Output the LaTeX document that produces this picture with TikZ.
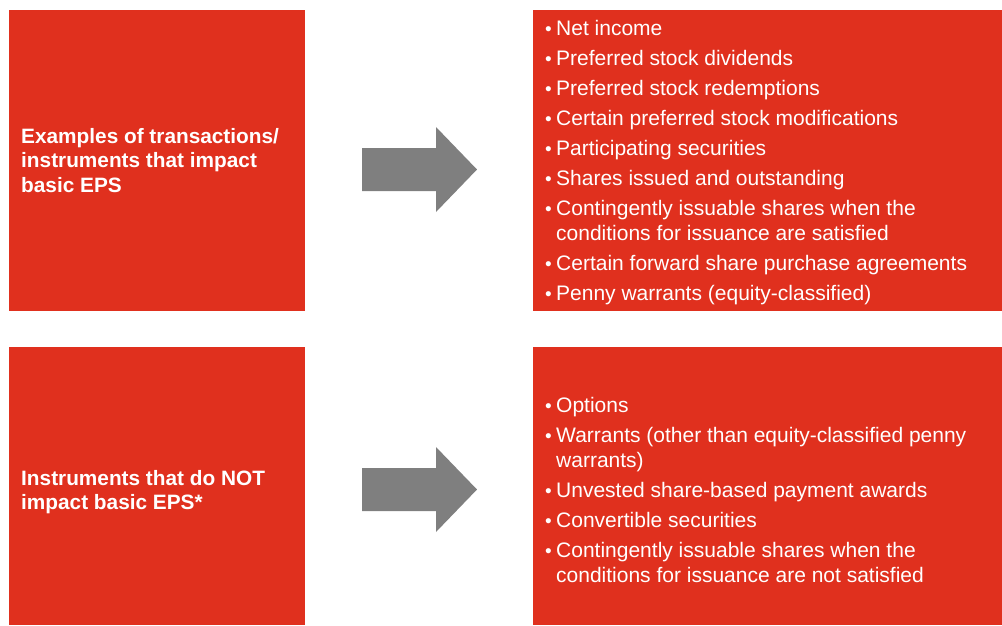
\documentclass[tikz,border=0pt]{standalone}
\usepackage{fontspec}
\setmainfont{Liberation Sans}
\definecolor{pwcred}{HTML}{E0301E}
\definecolor{arrgray}{HTML}{7F7F7F}
\newcommand\bul{\makebox[11pt][l]{\fontsize{19}{19}\selectfont•}}
\begin{document}
\begin{tikzpicture}[x=1pt,y=-1pt,
  box/.style={fill=pwcred, draw=none, anchor=north west, inner sep=0pt},
  headtext/.style={anchor=base west, inner sep=0pt, text=white, font=\bfseries\fontsize{20.8}{24.5}\selectfont},
  listtext/.style={anchor=base west, inner sep=0pt, text=white, font=\fontsize{21}{25}\selectfont},
  blockarrow/.pic={\fill[arrgray] (0,0) -- (74,0) -- (74,-21) -- (115,21.5) -- (74,64) -- (74,43) -- (0,43) -- cycle;}
]
\useasboundingbox (0,0) rectangle (1002,625);
% boxes
\node[box, minimum width=296pt, minimum height=301pt] (L1) at (9,10) {};
\node[box, minimum width=469pt, minimum height=301pt] (R1) at (533,10) {};
\node[box, minimum width=296pt, minimum height=278pt] (L2) at (9,347) {};
\node[box, minimum width=469pt, minimum height=278pt] (R2) at (533,347) {};
% arrows
\pic at (362,148) {blockarrow};
\pic at (362,468) {blockarrow};
% left texts
\node[headtext] (T1) at (21,143) {\begin{tabular}[t]{@{}l@{}}Examples of transactions/\\instruments that impact\\basic EPS\end{tabular}};
\node[headtext] (T2) at (21,485) {\begin{tabular}[t]{@{}l@{}}Instruments that do NOT\\impact basic EPS*\end{tabular}};
% right lists
\node[listtext] (B1) at (545,35) {\begin{tabular}[t]{@{}l@{}l@{}}
\bul & Net income\\[5pt]
\bul & Preferred stock dividends\\[5pt]
\bul & Preferred stock redemptions\\[5pt]
\bul & Certain preferred stock modifications\\[5pt]
\bul & Participating securities\\[5pt]
\bul & Shares issued and outstanding\\[5pt]
\bul & Contingently issuable shares when the\\
     & conditions for issuance are satisfied\\[5pt]
\bul & Certain forward share purchase agreements\\[5pt]
\bul & Penny warrants (equity-classified)
\end{tabular}};
\node[listtext] (B2) at (545,412) {\begin{tabular}[t]{@{}l@{}l@{}}
\bul & Options\\[5pt]
\bul & Warrants (other than equity-classified penny\\
     & warrants)\\[5pt]
\bul & Unvested share-based payment awards\\[5pt]
\bul & Convertible securities\\[5pt]
\bul & Contingently issuable shares when the\\
     & conditions for issuance are not satisfied
\end{tabular}};
\end{tikzpicture}
\end{document}
